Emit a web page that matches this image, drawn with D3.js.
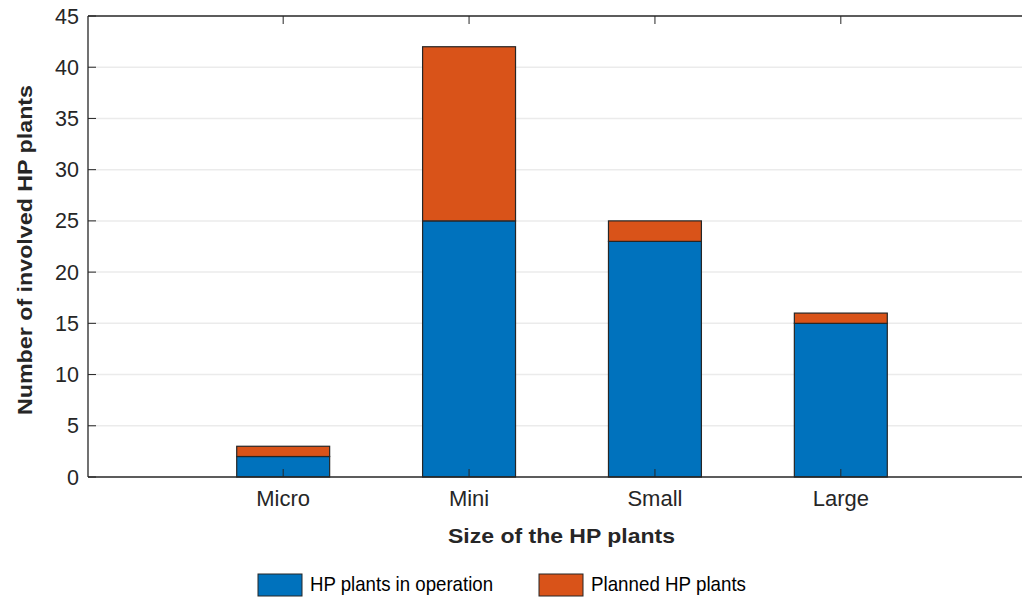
<!DOCTYPE html>
<html>
<head>
<meta charset="utf-8">
<script src="https://cdn.jsdelivr.net/npm/d3@7"></script>
<style>
  body { margin: 0; background: #fff; }
  svg { font-family: "Liberation Sans", Arial, sans-serif; }
  .grid-line { stroke: #ebebeb; stroke-width: 1.5; }
  .tick-label { fill: #262626; }
</style>
</head>
<body>
<svg id="chart" width="1022" height="598"></svg>
<script>
// chart data
var categories = ["Micro", "Mini", "Small", "Large"];
var inOperation = [2, 25, 23, 15];
var planned = [1, 17, 2, 1];
var seriesNames = ["HP plants in operation", "Planned HP plants"];
var seriesColors = ["#0072BD", "#D95319"];
var yTicks = [0, 5, 10, 15, 20, 25, 30, 35, 40, 45];

var svg = d3.select("#chart");
var plot = { left: 88, top: 16, bottom: 477, right: 1036 };

// categories sit at positions 1..n on a numeric x axis
var x = d3.scaleLinear()
          .domain([-0.05, 5.05])
          .range([plot.left, plot.right]);
var y = d3.scaleLinear()
          .domain([0, 45])
          .range([plot.bottom, plot.top]);
var barWidth = (x(2) - x(1)) * 0.5;

// grid lines
svg.append("g")
   .selectAll("line")
   .data(yTicks.filter(function(d) { return d > 0 && d < 45; }))
   .enter()
   .append("line")
   .attr("class", "grid-line")
   .attr("x1", plot.left)
   .attr("x2", plot.right)
   .attr("y1", function(d) { return y(d); })
   .attr("y2", function(d) { return y(d); });

// stacked bars
var stackData = categories.map(function(c, i) {
    return { cat: c, pos: i + 1, op: inOperation[i], pl: planned[i] };
});
var stack = d3.stack().keys(["op", "pl"])(stackData);

svg.append("g")
   .selectAll("g")
   .data(stack)
   .enter()
   .append("g")
   .attr("fill", function(d, i) { return seriesColors[i]; })
   .selectAll("rect")
   .data(function(d) { return d; })
   .enter()
   .append("rect")
   .attr("x", function(d) { return x(d.data.pos) - barWidth / 2; })
   .attr("width", barWidth)
   .attr("y", function(d) { return y(d[1]); })
   .attr("height", function(d) { return y(d[0]) - y(d[1]); })
   .attr("stroke", "#262626")
   .attr("stroke-width", 1.2);

// axes (box on: left, bottom, top)
var axisColor = "#262626";
svg.append("line")
   .attr("x1", plot.left).attr("x2", plot.left)
   .attr("y1", plot.top).attr("y2", plot.bottom)
   .attr("stroke", axisColor).attr("stroke-width", 1.3);
svg.append("line")
   .attr("x1", plot.left).attr("x2", plot.right)
   .attr("y1", plot.bottom).attr("y2", plot.bottom)
   .attr("stroke", axisColor).attr("stroke-width", 1.3);
svg.append("line")
   .attr("x1", plot.left).attr("x2", plot.right)
   .attr("y1", plot.top).attr("y2", plot.top)
   .attr("stroke", axisColor).attr("stroke-width", 1.3);

// y ticks and labels
var yAxisG = svg.append("g");
yAxisG.selectAll("line")
      .data(yTicks)
      .enter()
      .append("line")
      .attr("x1", plot.left).attr("x2", plot.left + 8)
      .attr("y1", function(d) { return y(d); })
      .attr("y2", function(d) { return y(d); })
      .attr("stroke", axisColor);
yAxisG.selectAll("text")
      .data(yTicks)
      .enter()
      .append("text")
      .attr("class", "tick-label")
      .attr("font-size", "21.5px")
      .attr("x", plot.left - 9)
      .attr("y", function(d) { return y(d); })
      .attr("dy", "0.35em")
      .attr("text-anchor", "end")
      .text(function(d) { return d; });

// x ticks (bottom and top) and labels
var xAxisG = svg.append("g");
xAxisG.selectAll("line.b")
      .data(stackData)
      .enter()
      .append("line")
      .attr("x1", function(d) { return x(d.pos); })
      .attr("x2", function(d) { return x(d.pos); })
      .attr("y1", plot.bottom).attr("y2", plot.bottom - 8)
      .attr("stroke", axisColor);
xAxisG.selectAll("line.t")
      .data(stackData)
      .enter()
      .append("line")
      .attr("x1", function(d) { return x(d.pos); })
      .attr("x2", function(d) { return x(d.pos); })
      .attr("y1", plot.top).attr("y2", plot.top + 8)
      .attr("stroke", axisColor);
xAxisG.selectAll("text")
      .data(stackData)
      .enter()
      .append("text")
      .attr("class", "tick-label")
      .attr("font-size", "22px")
      .attr("x", function(d) { return x(d.pos); })
      .attr("y", 506)
      .attr("text-anchor", "middle")
      .text(function(d) { return d.cat; });

// axis titles
svg.append("text")
   .attr("x", 561.5)
   .attr("y", 543)
   .attr("text-anchor", "middle")
   .attr("font-size", "21px")
   .attr("font-weight", "bold")
   .attr("fill", "#262626")
   .attr("textLength", 227)
   .attr("lengthAdjust", "spacingAndGlyphs")
   .text("Size of the HP plants");
svg.append("text")
   .attr("transform", "translate(32,250) rotate(-90)")
   .attr("text-anchor", "middle")
   .attr("font-size", "21px")
   .attr("font-weight", "bold")
   .attr("fill", "#262626")
   .attr("textLength", 330)
   .attr("lengthAdjust", "spacingAndGlyphs")
   .text("Number of involved HP plants");

// legend
var legendX = [258, 539];
var legendW = [183, 155];
var legend = svg.append("g")
                .selectAll("g")
                .data(seriesNames)
                .enter()
                .append("g")
                .attr("transform", function(d, i) { return "translate(" + legendX[i] + ",574)"; });
legend.append("rect")
      .attr("width", 44)
      .attr("height", 22)
      .attr("fill", function(d, i) { return seriesColors[i]; })
      .attr("stroke", "#262626")
      .attr("stroke-width", 1);
legend.append("text")
      .attr("x", 52)
      .attr("y", 17)
      .attr("font-size", "21px")
      .attr("fill", "#000")
      .attr("textLength", function(d, i) { return legendW[i]; })
      .attr("lengthAdjust", "spacingAndGlyphs")
      .text(function(d) { return d; });
</script>
</body>
</html>
